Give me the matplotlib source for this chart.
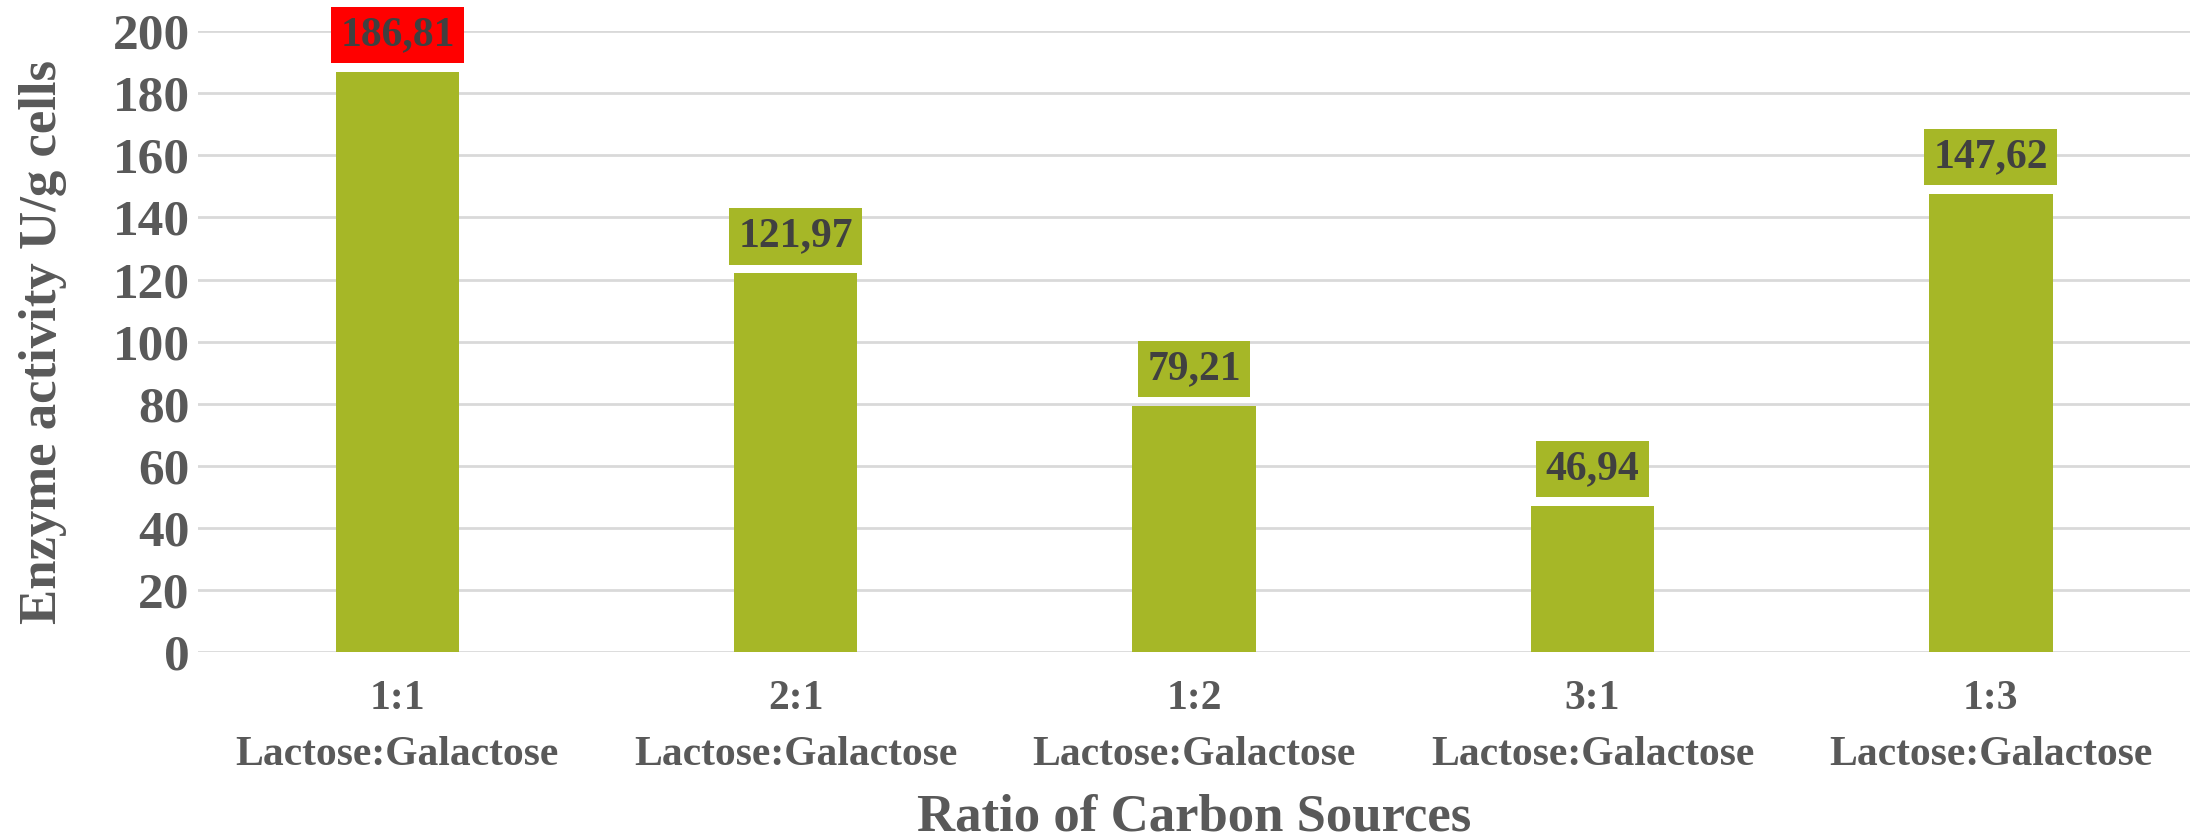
import matplotlib.pyplot as plt
import numpy as np

# carbon source ratios and measured activity
ratios = ['1:1', '2:1', '1:2', '3:1', '1:3']
sugars = 'Lactose:Galactose'
activity = [186.81, 121.97, 79.21, 46.94, 147.62]
yticks = [0, 20, 40, 60, 80, 100, 120, 140, 160, 180, 200]

# colours
barcolor = '#a6b727'
highlight = '#ff0000'
labelcolor = '#404040'
axiscolor = '#595959'
gridcolor = '#d9d9d9'

plt.rcParams['font.family'] = 'Liberation Serif'
plt.rcParams['font.weight'] = 'bold'
plt.rcParams['axes.labelweight'] = 'bold'

fig = plt.figure(figsize=(21.9, 8.4), dpi=100)
ax = fig.add_axes([0.0905, 0.2238, 0.9095, 0.739])

x = np.arange(len(ratios))
bars = ax.bar(x, activity, width=0.31, color=barcolor, zorder=2)

# value boxes above each bar, the highest one in red
top = max(activity)
for xi, val in zip(x, activity):
    box = highlight if val == top else barcolor
    ax.annotate('{:.2f}'.format(val).replace('.', ','), (xi, val),
                xytext=(0, 13), textcoords='offset points',
                ha='center', va='bottom', fontsize=30, color=labelcolor,
                bbox=dict(boxstyle='square,pad=0.22', fc=box, ec='none'),
                zorder=3)

ax.set_xlim(-0.5, 4.5)
ax.set_ylim(0, 200)
ax.set_yticks(yticks)
ax.set_yticklabels([str(t) for t in yticks], fontsize=37, color=axiscolor)
ax.set_xticks(x)
ax.set_xticklabels([r + '\n' + sugars for r in ratios], fontsize=30,
                   color=axiscolor, linespacing=1.62)

ax.tick_params(axis='both', length=0)
ax.tick_params(axis='x', pad=20)
ax.tick_params(axis='y', pad=6)
for s in ax.spines.values():
    s.set_visible(False)
ax.grid(axis='y', color=gridcolor, lw=2, zorder=0)
ax.set_axisbelow(True)

ax.set_xlabel('Ratio of Carbon Sources', fontsize=38, color=axiscolor, labelpad=14)
ax.set_ylabel('Enzyme activity U/g cells', fontsize=38, color=axiscolor, labelpad=33)

fig.savefig('out.png', dpi=100)
